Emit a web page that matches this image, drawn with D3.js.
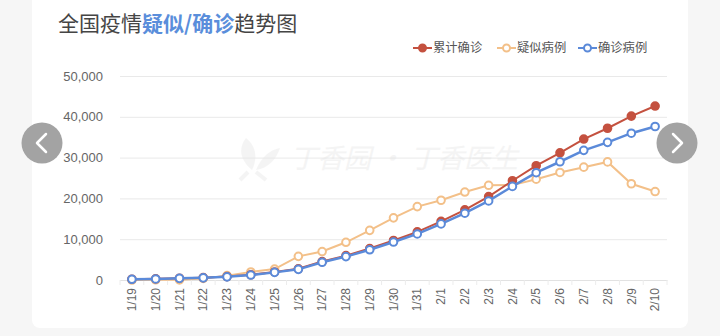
<!DOCTYPE html>
<html>
<head>
<meta charset="utf-8">
<script src="https://cdn.jsdelivr.net/npm/d3@7"></script>
<style>
  html, body { margin: 0; padding: 0; background: #f6f6f6; }
  svg { display: block; font-family: "Noto Sans CJK SC", "Noto Sans", sans-serif; }
</style>
</head>
<body>
<svg id="chart" width="720" height="336"></svg>
<script>
// Daily national figures, 1/19 – 2/10
const dates = ["1/19","1/20","1/21","1/22","1/23","1/24","1/25","1/26","1/27","1/28","1/29","1/30",
               "1/31","2/1","2/2","2/3","2/4","2/5","2/6","2/7","2/8","2/9","2/10"];
const cumulativeConfirmed = [198,291,440,571,830,1287,1975,2744,4515,5974,7711,9692,
                             11791,14380,17205,20438,24324,28018,31161,34546,37198,40171,42638];
const suspected = [0,54,37,393,1072,1965,2684,5794,6973,9239,12167,15238,
                   17988,19544,21558,23214,23260,24702,26359,27657,28942,23589,21675];
const currentConfirmed = [178,260,406,526,771,1208,1870,2613,4349,5739,7417,9308,
                          11289,13748,16369,19381,22942,26302,28985,31774,33738,35982,37626];
const yTicks = [0,10000,20000,30000,40000,50000];
const seriesNames = ["累计确诊","疑似病例","确诊病例"];

const colors = { red: "#c4513f", orange: "#f3c089", blue: "#5b8ad9" };

const svg = d3.select("#chart");

// card
svg.append("rect").attr("x", 32).attr("y", -10).attr("width", 656).attr("height", 338)
  .attr("rx", 8).attr("fill", "#fff");

// title
const title = svg.append("text").attr("x", 58).attr("y", 31).attr("font-size", 21);
title.append("tspan").attr("fill", "#454545").text("全国疫情");
title.append("tspan").attr("fill", "#5a8edb").attr("font-weight", "bold").text("疑似/确诊");
title.append("tspan").attr("fill", "#454545").text("趋势图");

const x = d3.scaleBand().domain(dates).range([120, 667]).padding(0);
const y = d3.scaleLinear().domain([0, 50000]).range([280, 76]);
const cx = d => x(d) + x.bandwidth() / 2;

// grid + y labels
const yAxis = svg.append("g").attr("transform", "translate(120,0)")
  .call(d3.axisLeft(y).tickValues(yTicks).tickFormat(d3.format(",")).tickSize(-547).tickPadding(17));
yAxis.select(".domain").remove();
yAxis.selectAll(".tick line").attr("stroke", "#e9e9e9");
yAxis.selectAll(".tick text").attr("fill", "#666").attr("font-size", 13)
  .attr("font-family", "Liberation Sans, Arial, sans-serif");

// watermark
const wm = svg.append("g").attr("opacity", 0.4);
wm.append("path").attr("d", "M252,170 C240,160 238,148 246,138 C256,146 258,158 252,170 Z")
  .attr("fill", "#e6e6e6");
wm.append("path").attr("d", "M256,170 C262,156 270,150 280,148 C276,160 268,168 256,170 Z")
  .attr("fill", "#e6e6e6");
wm.append("path").attr("d", "M248,172 L240,180 M256,172 L266,180").attr("stroke", "#e6e6e6").attr("stroke-width", 4);
wm.append("text").attr("x", 290).attr("y", 168).attr("font-size", 27).attr("fill", "#e4e4e4")
  .attr("font-style", "italic").text("丁香园 · 丁香医生");

// x axis
const xAxis = svg.append("g").attr("transform", "translate(0,280)")
  .call(d3.axisBottom(x).tickSize(0).tickPadding(0));
xAxis.select(".domain").attr("stroke", "#e2e2e2");
xAxis.selectAll(".tick text")
  .attr("font-size", 12).attr("fill", "#666")
  .attr("font-family", "Liberation Sans, Arial, sans-serif")
  .attr("text-anchor", "end")
  .attr("transform", "translate(0,8) rotate(-90)")
  .attr("dy", "0.35em").attr("y", 0).attr("x", 0);
// small boundary ticks
svg.append("g").selectAll("line").data(dates.concat(["end"])).join("line")
  .attr("x1", (d, i) => 120 + i * x.bandwidth()).attr("x2", (d, i) => 120 + i * x.bandwidth())
  .attr("y1", 280).attr("y2", 285).attr("stroke", "#ececec");

const line = d3.line().x((d, i) => cx(dates[i])).y(d => y(d));

function drawSeries(values, color, hollow, width) {
  const g = svg.append("g");
  g.append("path").datum(values).attr("d", line).attr("fill", "none")
    .attr("stroke", color).attr("stroke-width", width);
  g.selectAll("circle").data(values).join("circle")
    .attr("cx", (d, i) => cx(dates[i])).attr("cy", d => y(d)).attr("r", 3.8)
    .attr("fill", hollow ? "#fff" : color).attr("stroke", color).attr("stroke-width", 2);
}
drawSeries(suspected, colors.orange, true, 2);
drawSeries(cumulativeConfirmed, colors.red, false, 2);
drawSeries(currentConfirmed, colors.blue, true, 2.5);

// legend
const legendItems = [
  { name: seriesNames[0], color: colors.red, hollow: false, x: 413 },
  { name: seriesNames[1], color: colors.orange, hollow: true, x: 497 },
  { name: seriesNames[2], color: colors.blue, hollow: true, x: 578 }
];
const lg = svg.append("g").selectAll("g").data(legendItems).join("g")
  .attr("transform", d => `translate(${d.x},48)`);
lg.append("line").attr("x1", 0).attr("x2", 19).attr("stroke", d => d.color).attr("stroke-width", 2);
lg.append("circle").attr("cx", 9.5).attr("r", 3.5)
  .attr("fill", d => d.hollow ? "#fff" : d.color).attr("stroke", d => d.color).attr("stroke-width", 2);
lg.append("text").attr("x", 20).attr("dy", "0.36em").attr("font-size", 12.3).attr("fill", "#555")
  .text(d => d.name);

// carousel buttons
function navButton(cxp, cyp, dir) {
  const g = svg.append("g").attr("transform", `translate(${cxp},${cyp})`);
  g.append("circle").attr("r", 20.5).attr("fill", "#a3a3a3");
  g.append("path").attr("d", dir < 0 ? "M4,-9 L-5,0 L4,9" : "M-4,-9 L5,0 L-4,9")
    .attr("fill", "none").attr("stroke", "#fff").attr("stroke-width", 2.5)
    .attr("stroke-linecap", "round").attr("stroke-linejoin", "round");
}
navButton(42, 143, -1);
navButton(677, 143, 1);
</script>
</body>
</html>
